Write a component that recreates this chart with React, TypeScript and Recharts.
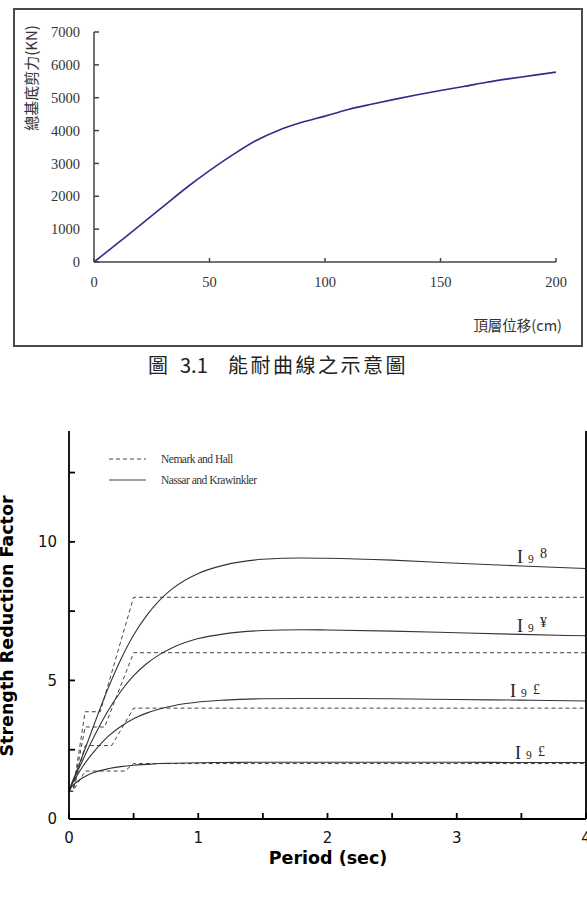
import React from "react";
import { LineChart, Line, XAxis, YAxis } from "recharts";

// top chart: pushover (capacity) curve
const dispCm = [0, 10, 20, 30, 40, 50, 60, 70, 80, 90, 100, 110, 120, 130, 140, 150, 160, 170, 180, 190, 200];
const baseShearKN = [0, 560, 1120, 1690, 2260, 2780, 3260, 3690, 4010, 4250, 4440, 4640, 4800, 4950, 5090, 5220, 5340, 5470, 5580, 5680, 5780];
const dispTicks = [0, 50, 100, 150, 200];
const shearTicks = [0, 1000, 2000, 3000, 4000, 5000, 6000, 7000];

// bottom chart: strength reduction factor vs period
const periods = [0, 0.02, 0.05, 0.1, 0.15, 0.2, 0.3, 0.4, 0.5, 0.6, 0.7, 0.8, 1.0, 1.2, 1.5, 1.8, 2.0, 2.5, 3.0, 3.5, 4.0];
const nassar8 = [1, 1.27, 1.62, 2.23, 2.85, 3.48, 4.69, 5.75, 6.64, 7.34, 7.89, 8.31, 8.86, 9.16, 9.37, 9.42, 9.41, 9.34, 9.23, 9.13, 9.04];
const nassar6 = [1, 1.25, 1.56, 2.06, 2.56, 3.03, 3.89, 4.6, 5.17, 5.6, 5.93, 6.18, 6.51, 6.68, 6.8, 6.83, 6.82, 6.78, 6.72, 6.66, 6.61];
const nassar4 = [1, 1.22, 1.47, 1.85, 2.18, 2.47, 2.97, 3.34, 3.62, 3.82, 3.97, 4.08, 4.22, 4.29, 4.34, 4.35, 4.35, 4.34, 4.31, 4.29, 4.26];
const nassar2 = [1, 1.16, 1.3, 1.47, 1.6, 1.69, 1.81, 1.89, 1.94, 1.97, 2.0, 2.01, 2.03, 2.04, 2.05, 2.05, 2.05, 2.05, 2.045, 2.04, 2.04];

const newmarkT8 = [0, 0.03, 0.125, 0.242, 0.5, 4];
const newmarkR8 = [1, 1, 3.87, 3.87, 8, 8];
const newmarkT6 = [0, 0.03, 0.125, 0.276, 0.5, 4];
const newmarkR6 = [1, 1, 3.32, 3.32, 6, 6];
const newmarkT4 = [0, 0.03, 0.125, 0.33, 0.5, 4];
const newmarkR4 = [1, 1, 2.65, 2.65, 4, 4];
const newmarkT2 = [0, 0.03, 0.125, 0.433, 0.5, 4];
const newmarkR2 = [1, 1, 1.73, 1.73, 2, 2];

const periodTicks = [0, 0.5, 1, 1.5, 2, 2.5, 3, 3.5, 4];
const factorTicks = [0, 2.5, 5, 7.5, 10, 12.5];
const rightTicks = [0, 1, 2, 3, 4, 5, 6, 7, 8, 9, 10, 11, 12];

const pts = (xs: number[], ys: number[]) => xs.map((t, i) => ({ t, r: ys[i] }));
const pushover = dispCm.map((d, i) => ({ d, v: baseShearKN[i] }));

const serif = "'Liberation Serif', 'DejaVu Serif', serif";
const sans = "'DejaVu Sans', sans-serif";
const cjk = "'Noto Sans CJK TC', 'Noto Sans', sans-serif";

export default function App() {
  return (
    <div
      style={{
        position: "absolute",
        left: 0,
        top: 0,
        width: 587,
        height: 902,
        overflow: "hidden",
        background: "#fff",
      }}
    >
      <div
        style={{
          position: "absolute",
          left: 13,
          top: 8,
          width: 570,
          height: 339,
          border: "2px solid #4a4a4a",
          boxSizing: "border-box",
        }}
      />

      <div style={{ position: "absolute", left: 0, top: 0 }}>
        <LineChart
          width={587}
          height={340}
          margin={{ top: 32, right: 31, left: 0, bottom: 48 }}
          data={pushover}
        >
          <XAxis
            dataKey="d"
            type="number"
            domain={[0, 200]}
            ticks={dispTicks}
            height={30}
            stroke="#444"
            strokeWidth={1.5}
            tickSize={-4}
            tickMargin={19}
            tick={{ fontSize: 14.5, fontFamily: serif, fill: "#333" }}
          />
          <YAxis
            type="number"
            domain={[0, 7000]}
            ticks={shearTicks}
            width={94}
            stroke="#444"
            strokeWidth={1.5}
            tickSize={-5}
            tickMargin={19}
            tick={{ fontSize: 14.5, fontFamily: serif, fill: "#333" }}
          />
          <Line
            dataKey="v"
            type="monotone"
            stroke="#2e2e8a"
            strokeWidth={1.6}
            dot={false}
            isAnimationActive={false}
          />
        </LineChart>
      </div>

      <div style={{ position: "absolute", left: 0, top: 400 }}>
        <LineChart
          width={620}
          height={480}
          margin={{ top: 31, right: 14, left: 0, bottom: 31 }}
        >
          <XAxis
            dataKey="t"
            type="number"
            domain={[0, 4]}
            ticks={periodTicks}
            height={30}
            stroke="#000"
            strokeWidth={1.8}
            tickSize={-6}
            tickMargin={19}
            tickFormatter={(v: number) => (Number.isInteger(v) ? String(v) : "")}
            tick={{ fontSize: 15, fontFamily: sans, fill: "#111" }}
          />
          <XAxis
            xAxisId="top"
            orientation="top"
            dataKey="t"
            type="number"
            domain={[0, 4]}
            ticks={periodTicks}
            height={0}
            stroke="#000"
            strokeWidth={1.8}
            tickSize={-6}
            tick={false}
          />
          <YAxis
            type="number"
            domain={[0, 14]}
            ticks={factorTicks}
            width={69}
            stroke="#000"
            strokeWidth={1.8}
            tickSize={-6}
            tickMargin={18}
            tickFormatter={(v: number) => (v % 5 === 0 ? String(v) : "")}
            tick={{ fontSize: 15, fontFamily: sans, fill: "#111" }}
          />
          <YAxis
            yAxisId="right"
            orientation="right"
            type="number"
            domain={[0, 12]}
            ticks={rightTicks}
            width={20}
            stroke="#000"
            strokeWidth={1.8}
            tickSize={-6}
            tick={false}
          />

          {[
            [newmarkT8, newmarkR8],
            [newmarkT6, newmarkR6],
            [newmarkT4, newmarkR4],
            [newmarkT2, newmarkR2],
          ].map(([ts, rs], i) => (
            <Line
              key={"nh" + i}
              data={pts(ts, rs)}
              dataKey="r"
              type="linear"
              stroke="#444"
              strokeWidth={1}
              strokeDasharray="4 3"
              dot={false}
              isAnimationActive={false}
            />
          ))}

          {[nassar8, nassar6, nassar4, nassar2].map((rs, i) => (
            <Line
              key={"nk" + i}
              data={pts(periods, rs)}
              dataKey="r"
              type="monotone"
              stroke="#333"
              strokeWidth={1.1}
              dot={false}
              isAnimationActive={false}
            />
          ))}
        </LineChart>
      </div>

      <svg
        width={587}
        height={902}
        style={{ position: "absolute", left: 0, top: 0, pointerEvents: "none" }}
      >
        <text
          transform="translate(30,78) rotate(-90)"
          textAnchor="middle"
          dominantBaseline="central"
          fontSize={15}
          fontFamily={cjk}
          fill="#333"
        >
          總基底剪力(KN)
        </text>
        <text x={562} y={331} textAnchor="end" fontSize={14.5} fontFamily={cjk} fill="#333">
          頂層位移(cm)
        </text>

        <g fontFamily={cjk} fontSize={20} fill="#222">
          <text x={148} y={373}>圖</text>
          <text x={180} y={373}>3.1</text>
          <text x={228} y={373} letterSpacing={2.5}>
            能耐曲線之示意圖
          </text>
        </g>

        <text
          transform="translate(13,626) rotate(-90)"
          textAnchor="middle"
          fontWeight="bold"
          fontSize={17.5}
          fontFamily={sans}
          fill="#000"
        >
          Strength Reduction Factor
        </text>
        <text
          x={328}
          y={864}
          textAnchor="middle"
          fontWeight="bold"
          fontSize={17.5}
          fontFamily={sans}
          fill="#000"
        >
          Period (sec)
        </text>

        <line x1={109} y1={459} x2={146} y2={459} stroke="#444" strokeDasharray="4 3" />
        <text x={161} y={463} fontSize={11.5} fontFamily={serif} letterSpacing={-0.5} fill="#333">
          Nemark and Hall
        </text>
        <line x1={109} y1={480} x2={146} y2={480} stroke="#444" />
        <text x={161} y={484} fontSize={11.5} fontFamily={serif} letterSpacing={-0.5} fill="#333">
          Nassar and Krawinkler
        </text>

        <g fontFamily={serif} fill="#222">
          <text x={517} y={563} fontSize={18}>I</text>
          <text x={528} y={563} fontSize={11.5}>9</text>
          <text x={540} y={558} fontSize={14}>8</text>

          <text x={517} y={632} fontSize={18}>I</text>
          <text x={528} y={632} fontSize={11.5}>9</text>
          <text x={540} y={627} fontSize={14}>¥</text>

          <text x={510} y={697} fontSize={18}>I</text>
          <text x={521} y={697} fontSize={11.5}>9</text>
          <text x={533} y={694} fontSize={14}>£</text>

          <text x={515} y={759} fontSize={18}>I</text>
          <text x={526} y={759} fontSize={11.5}>9</text>
          <text x={538} y={756} fontSize={14}>£</text>
        </g>
      </svg>
    </div>
  );
}
